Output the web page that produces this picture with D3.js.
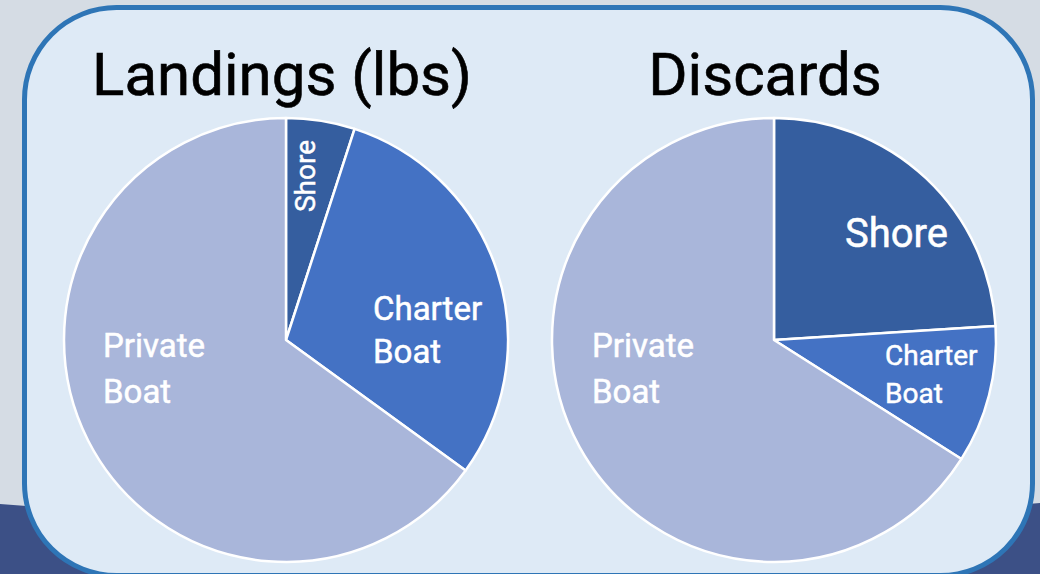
<!DOCTYPE html>
<html>
<head>
<meta charset="utf-8">
<script src="https://cdn.jsdelivr.net/npm/d3@7"></script>
<style>
  html, body { margin: 0; padding: 0; background: #d5dce4; }
  svg { display: block; }
</style>
</head>
<body>
<svg id="chart" width="1040" height="574"></svg>
<script>
// Share of recreational catch by fishing mode (percent)
const modes = ["Shore", "Charter Boat", "Private Boat"];
const landingsShare = [5, 30, 65];
const discardsShare = [24, 10, 66];
const chartTitles = ["Landings (lbs)", "Discards"];

const colors = {
  "Shore": "#355e9f",
  "Charter Boat": "#4472c4",
  "Private Boat": "#a9b6da"
};

// Label placement relative to each pie centre, per chart
const labelLayout = [
  {
    "Shore":        { dx: 29,   dy: -164, size: 28, rotate: -90, anchor: "middle", lines: ["Shore"], lh: 0 },
    "Charter Boat": { dx: 87,   dy: -20,  size: 33, rotate: 0, anchor: "start", lines: ["Charter", "Boat"], lh: 43 },
    "Private Boat": { dx: -183, dy: 17,   size: 33, rotate: 0, anchor: "start", lines: ["Private", "Boat"], lh: 46 }
  },
  {
    "Shore":        { dx: 71,   dy: -93,  size: 40, rotate: 0, anchor: "start", lines: ["Shore"], lh: 0 },
    "Charter Boat": { dx: 111,  dy: 25,   size: 28, rotate: 0, anchor: "start", lines: ["Charter", "Boat"], lh: 38 },
    "Private Boat": { dx: -182, dy: 17,   size: 33, rotate: 0, anchor: "start", lines: ["Private", "Boat"], lh: 46 }
  }
];

const svg = d3.select("#chart");
const W = 1040, H = 574;
const FONT = "Roboto, 'Liberation Sans', Arial, sans-serif";

// backdrop: grey page with a navy band along the bottom
svg.append("rect").attr("width", W).attr("height", H).attr("fill", "#d5dce4");
svg.append("path")
  .attr("d", "M0,504 Q520,545 1040,503 L1040,574 L0,574 Z")
  .attr("fill", "#3c5086");

// rounded light-blue panel
svg.append("rect")
  .attr("x", 24.5).attr("y", 7.5)
  .attr("width", 1008).attr("height", 568)
  .attr("rx", 92).attr("ry", 92)
  .attr("fill", "#deeaf6")
  .attr("stroke", "#2e75b6")
  .attr("stroke-width", 5);

const pies = [
  { title: chartTitles[0], values: landingsShare, cx: 286, cy: 340, r: 222, titleX: 282 },
  { title: chartTitles[1], values: discardsShare, cx: 774, cy: 340, r: 222, titleX: 765 }
];

const pie = d3.pie().sort(null).value(d => d.value);

pies.forEach((p, i) => {
  const data = modes.map((m, k) => ({ mode: m, value: p.values[k] }));
  const arc = d3.arc().innerRadius(0).outerRadius(p.r);
  const g = svg.append("g").attr("transform", `translate(${p.cx},${p.cy})`);

  g.selectAll("path.slice")
    .data(pie(data))
    .join("path")
    .attr("class", "slice")
    .attr("d", arc)
    .attr("fill", d => colors[d.data.mode])
    .attr("stroke", "#ffffff")
    .attr("stroke-width", 2.5)
    .attr("stroke-linejoin", "round");

  // slice labels
  data.forEach(d => {
    const L = labelLayout[i][d.mode];
    const t = g.append("text")
      .attr("transform", `translate(${L.dx},${L.dy}) rotate(${L.rotate})`)
      .attr("text-anchor", L.anchor)
      .attr("fill", "#ffffff")
      .attr("font-family", FONT)
      .attr("font-size", L.size)
      .style("paint-order", "stroke")
      .attr("stroke", "#ffffff")
      .attr("stroke-width", 0.5);
    L.lines.forEach((line, j) => {
      t.append("tspan").attr("x", 0).attr("y", j * L.lh).text(line);
    });
  });

  // chart title
  svg.append("text")
    .attr("x", p.titleX).attr("y", 95)
    .attr("text-anchor", "middle")
    .attr("font-family", FONT)
    .attr("font-size", 60)
    .attr("fill", "#000000")
    .attr("stroke", "#000000")
    .attr("stroke-width", 0.6)
    .text(p.title);
});
</script>
</body>
</html>
